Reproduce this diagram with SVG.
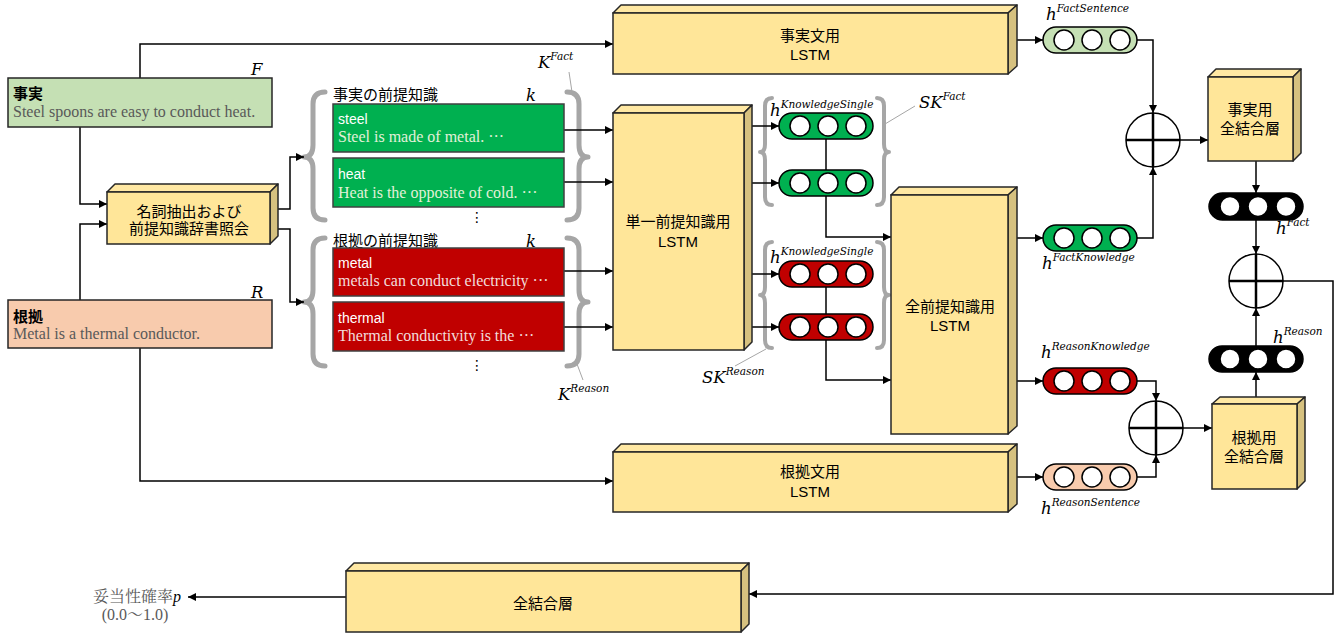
<svg xmlns="http://www.w3.org/2000/svg" width="1338" height="633" viewBox="0 0 1338 633">
<style>
.front{fill:#ffe699;stroke:#262626;stroke-width:1.5}
.top{fill:#ffe8a3;stroke:#262626;stroke-width:1.5;stroke-linejoin:round}
.side{fill:#d6c17f;stroke:#262626;stroke-width:1.5;stroke-linejoin:round}
.lbl{font-family:"Liberation Sans","Noto Sans CJK JP",sans-serif;font-size:15px;fill:#000;text-anchor:middle}
.hdr{font-family:"Liberation Sans","Noto Sans CJK JP",sans-serif;font-size:15px;fill:#000}
.kw{font-family:"Liberation Sans","Noto Sans CJK JP",sans-serif;font-size:14px;fill:#fff}
.ser{font-family:"Liberation Serif","Noto Serif CJK JP","Noto Sans CJK JP",serif;font-size:16px}
.math{font-family:"DejaVu Serif",serif;font-style:italic;font-size:16.5px;fill:#000}
.sup{font-size:10.5px}
.conn path,.conn line{fill:none;stroke:#000;stroke-width:1.5}
.brace{fill:none;stroke:#a6a6a6;stroke-width:5;stroke-linecap:round;stroke-linejoin:round}
.brace2{fill:none;stroke:#a6a6a6;stroke-width:4;stroke-linecap:round;stroke-linejoin:round}
.lead{stroke:#a6a6a6;stroke-width:1}
.pill{stroke:#000;stroke-width:1.5}
.dot{fill:#fff;stroke:#000;stroke-width:1.5}
.plus circle{fill:#fff;stroke:#000;stroke-width:1.5}
.plus line{stroke:#000;stroke-width:2.5}
</style>
<defs>
<marker id="arr" viewBox="0 0 10 10" refX="10" refY="5" markerWidth="8" markerHeight="8" markerUnits="userSpaceOnUse" orient="auto">
<path d="M0,0 L10,5 L0,10 z" fill="#000"/>
</marker>
<g id="dots3">
<circle class="dot" cx="21" cy="13" r="10"/>
<circle class="dot" cx="49" cy="13" r="10"/>
<circle class="dot" cx="77" cy="13" r="10"/>
</g>
</defs>
<rect width="1338" height="633" fill="#fff"/>

<!-- braces -->
<g id="braces">
<path class="brace" d="M325,92 Q313,92 313,104 V145 Q313,157 304,157 Q313,157 313,169 V208 Q313,220 325,220"/>
<path class="brace" d="M567,92 Q579,92 579,104 V145 Q579,157 588,157 Q579,157 579,169 V208 Q579,220 567,220"/>
<path class="brace" d="M325,238 Q313,238 313,250 V290 Q313,302 304,302 Q313,302 313,314 V354 Q313,366 325,366"/>
<path class="brace" d="M567,238 Q579,238 579,250 V290 Q579,302 588,302 Q579,302 579,314 V354 Q579,366 567,366"/>
<path class="brace2" d="M772,98 Q765,98 765,106 V144 Q765,152 760,152 Q765,152 765,160 V197 Q765,205 772,205"/>
<path class="brace2" d="M877,98 Q884,98 884,106 V144 Q884,152 889,152 Q884,152 884,160 V197 Q884,205 877,205"/>
<path class="brace2" d="M772,242 Q765,242 765,250 V287 Q765,295 760,295 Q765,295 765,303 V340 Q765,348 772,348"/>
<path class="brace2" d="M877,242 Q884,242 884,250 V287 Q884,295 889,295 Q884,295 884,303 V340 Q884,348 877,348"/>
<line class="lead" x1="569" y1="72" x2="572" y2="92"/>
<line class="lead" x1="577" y1="364" x2="583" y2="380"/>
<line class="lead" x1="885" y1="124" x2="915" y2="106"/>
<line class="lead" x1="735" y1="366" x2="766" y2="349"/>
</g>

<!-- connectors -->
<g class="conn" id="connectors">
<path d="M140,78 V44 H613" marker-end="url(#arr)"/>
<path d="M80,127 V204 H107" marker-end="url(#arr)"/>
<path d="M80,300 V224 H107" marker-end="url(#arr)"/>
<path d="M140,348 V481 H613" marker-end="url(#arr)"/>
<path d="M278,209 H290 V157 H304" marker-end="url(#arr)"/>
<path d="M278,229 H290 V302 H304" marker-end="url(#arr)"/>
<path d="M564,130 H613" marker-end="url(#arr)"/>
<path d="M564,182 H613" marker-end="url(#arr)"/>
<path d="M564,271 H613" marker-end="url(#arr)"/>
<path d="M564,327 H613" marker-end="url(#arr)"/>
<path d="M752,126 H779" marker-end="url(#arr)"/>
<path d="M752,183 H779" marker-end="url(#arr)"/>
<path d="M752,274 H779" marker-end="url(#arr)"/>
<path d="M752,327 H779" marker-end="url(#arr)"/>
<path d="M826,139 V170"/>
<path d="M826,196 V237 H891" marker-end="url(#arr)"/>
<path d="M826,287 V314"/>
<path d="M826,340 V380 H891" marker-end="url(#arr)"/>
<path d="M1017,40 H1043" marker-end="url(#arr)"/>
<path d="M1137,40 H1153 V113" marker-end="url(#arr)"/>
<path d="M1017,238 H1043" marker-end="url(#arr)"/>
<path d="M1137,238 H1153 V167" marker-end="url(#arr)"/>
<path d="M1180,140 H1208" marker-end="url(#arr)"/>
<path d="M1256,161 V193" marker-end="url(#arr)"/>
<path d="M1256,220 V254" marker-end="url(#arr)"/>
<path d="M1283,281 H1333 V594 H749" marker-end="url(#arr)"/>
<path d="M1017,381 H1043" marker-end="url(#arr)"/>
<path d="M1137,381 H1156 V401" marker-end="url(#arr)"/>
<path d="M1017,477 H1043" marker-end="url(#arr)"/>
<path d="M1137,477 H1156 V455" marker-end="url(#arr)"/>
<path d="M1183,428 H1212" marker-end="url(#arr)"/>
<path d="M1256,397 V372" marker-end="url(#arr)"/>
<path d="M1256,346 V308" marker-end="url(#arr)"/>
<path d="M346,597 H188" marker-end="url(#arr)"/>
</g>

<!-- input boxes -->
<g id="fact">
<rect x="8" y="78" width="264" height="49" fill="#c5e0b4" stroke="#262626" stroke-width="1.5"/>
<text class="hdr" x="13" y="99" font-weight="bold">事実</text>
<text class="ser" x="13" y="117" fill="#595959">Steel spoons are easy to conduct heat.</text>
<text class="math" x="251" y="75" font-size="15">F</text>
</g>
<g id="reason">
<rect x="8" y="300" width="264" height="48" fill="#f8cbad" stroke="#262626" stroke-width="1.5"/>
<text class="hdr" x="13" y="322" font-weight="bold">根拠</text>
<text class="ser" x="13" y="339" fill="#595959">Metal is a thermal conductor.</text>
<text class="math" x="251" y="298" font-size="15">R</text>
</g>

<!-- boxes -->
<g id="noun">
<polygon class="top" points="107,192 115,184 278,184 270,192"/>
<polygon class="side" points="270,192 278,184 278,236 270,244"/>
<rect class="front" x="107" y="192" width="163" height="52"/>
<text class="lbl" x="189" y="217">名詞抽出および</text>
<text class="lbl" x="189" y="234">前提知識辞書照会</text>
</g>
<g id="factLSTM">
<polygon class="top" points="613,13 621,5 1017,5 1008,13"/>
<polygon class="side" points="1008,13 1017,5 1017,66 1008,74"/>
<rect class="front" x="613" y="13" width="395" height="61"/>
<text class="lbl" x="810" y="41">事実文用</text>
<text class="lbl" x="810" y="60">LSTM</text>
</g>
<g id="singleLSTM">
<polygon class="top" points="613,113 621,105 752,105 744,113"/>
<polygon class="side" points="744,113 752,105 752,342 744,350"/>
<rect class="front" x="613" y="113" width="131" height="237"/>
<text class="lbl" x="678" y="227">単一前提知識用</text>
<text class="lbl" x="678" y="247">LSTM</text>
</g>
<g id="allLSTM">
<polygon class="top" points="891,195 899,187 1017,187 1008,195"/>
<polygon class="side" points="1008,195 1017,187 1017,426 1008,434"/>
<rect class="front" x="891" y="195" width="117" height="239"/>
<text class="lbl" x="950" y="312">全前提知識用</text>
<text class="lbl" x="950" y="331">LSTM</text>
</g>
<g id="reasonLSTM">
<polygon class="top" points="613,452 621,444 1017,444 1008,452"/>
<polygon class="side" points="1008,452 1017,444 1017,504 1008,512"/>
<rect class="front" x="613" y="452" width="395" height="60"/>
<text class="lbl" x="810" y="477">根拠文用</text>
<text class="lbl" x="810" y="497">LSTM</text>
</g>
<g id="factFC">
<polygon class="top" points="1208,77 1216,69 1301,69 1293,77"/>
<polygon class="side" points="1293,77 1301,69 1301,153 1293,161"/>
<rect class="front" x="1208" y="77" width="85" height="84"/>
<text class="lbl" x="1250" y="115">事実用</text>
<text class="lbl" x="1250" y="134">全結合層</text>
</g>
<g id="reasonFC">
<polygon class="top" points="1212,404 1220,397 1305,397 1297,404"/>
<polygon class="side" points="1297,404 1305,397 1305,481 1297,489"/>
<rect class="front" x="1212" y="404" width="85" height="85"/>
<text class="lbl" x="1254" y="443">根拠用</text>
<text class="lbl" x="1254" y="462">全結合層</text>
</g>
<g id="finalFC">
<polygon class="top" points="346,571 354,563 749,563 741,571"/>
<polygon class="side" points="741,571 749,563 749,624 741,632"/>
<rect class="front" x="346" y="571" width="395" height="61"/>
<text class="lbl" x="543" y="609">全結合層</text>
</g>

<!-- knowledge boxes -->
<g id="factKnowledge">
<text class="hdr" x="333" y="100">事実の前提知識</text>
<text class="math" x="526" y="101">k</text>
<text x="477" y="222" font-family="DejaVu Sans,sans-serif" font-size="14" text-anchor="middle">⋮</text>
</g>
<g id="kSteel">
<rect x="333" y="104" width="231" height="48" fill="#00b050" stroke="#404040" stroke-width="1.5"/>
<text class="kw" x="338" y="124">steel</text>
<text class="ser" x="338" y="142" fill="#e2f0d9">Steel is made of metal. ···</text>
</g>
<g id="kHeat">
<rect x="333" y="158" width="231" height="49" fill="#00b050" stroke="#404040" stroke-width="1.5"/>
<text class="kw" x="338" y="179">heat</text>
<text class="ser" x="338" y="198" fill="#e2f0d9">Heat is the opposite of cold. ···</text>
</g>
<g id="reasonKnowledge">
<text class="hdr" x="333" y="246">根拠の前提知識</text>
<text class="math" x="526" y="247">k</text>
<text x="477" y="370" font-family="DejaVu Sans,sans-serif" font-size="14" text-anchor="middle">⋮</text>
</g>
<g id="kMetal">
<rect x="333" y="248" width="231" height="48" fill="#c00000" stroke="#404040" stroke-width="1.5"/>
<text class="kw" x="338" y="268">metal</text>
<text class="ser" x="338" y="286" fill="#f2dcdb">metals can conduct electricity ···</text>
</g>
<g id="kThermal">
<rect x="333" y="302" width="231" height="49" fill="#c00000" stroke="#404040" stroke-width="1.5"/>
<text class="kw" x="338" y="323">thermal</text>
<text class="ser" x="338" y="341" fill="#f2dcdb">Thermal conductivity is the ···</text>
</g>

<!-- math labels -->
<g id="labels">
<text class="math" x="538" y="68">K<tspan class="sup" dy="-8">Fact</tspan></text>
<text class="math" x="558" y="400">K<tspan class="sup" dy="-8">Reason</tspan></text>
<text class="math" x="919" y="108">SK<tspan class="sup" dy="-8">Fact</tspan></text>
<text class="math" x="702" y="383">SK<tspan class="sup" dy="-8">Reason</tspan></text>
<text class="math" x="770" y="116">h<tspan class="sup" dy="-8">KnowledgeSingle</tspan></text>
<text class="math" x="770" y="263">h<tspan class="sup" dy="-8">KnowledgeSingle</tspan></text>
<text class="math" x="1046" y="20">h<tspan class="sup" dy="-8">FactSentence</tspan></text>
<text class="math" x="1042" y="269">h<tspan class="sup" dy="-8">FactKnowledge</tspan></text>
<text class="math" x="1276" y="234">h<tspan class="sup" dy="-8">Fact</tspan></text>
<text class="math" x="1273" y="343">h<tspan class="sup" dy="-8">Reason</tspan></text>
<text class="math" x="1041" y="358">h<tspan class="sup" dy="-8">ReasonKnowledge</tspan></text>
<text class="math" x="1041" y="514">h<tspan class="sup" dy="-8">ReasonSentence</tspan></text>
</g>

<!-- vectors -->
<g id="vecKS1"><rect class="pill" x="779" y="113" width="94" height="26" rx="13" fill="#00b050"/><use href="#dots3" x="779" y="113"/></g>
<g id="vecKS2"><rect class="pill" x="779" y="170" width="94" height="26" rx="13" fill="#00b050"/><use href="#dots3" x="779" y="170"/></g>
<g id="vecKS3"><rect class="pill" x="779" y="261" width="94" height="26" rx="13" fill="#c00000"/><use href="#dots3" x="779" y="261"/></g>
<g id="vecKS4"><rect class="pill" x="779" y="314" width="94" height="26" rx="13" fill="#c00000"/><use href="#dots3" x="779" y="314"/></g>
<g id="vecFS"><rect class="pill" x="1043" y="27" width="94" height="26" rx="13" fill="#c5e0b4"/><use href="#dots3" x="1043" y="27"/></g>
<g id="vecFK"><rect class="pill" x="1043" y="225" width="94" height="26" rx="13" fill="#00b050"/><use href="#dots3" x="1043" y="225"/></g>
<g id="vecRK"><rect class="pill" x="1043" y="368" width="94" height="26" rx="13" fill="#c00000"/><use href="#dots3" x="1043" y="368"/></g>
<g id="vecRS"><rect class="pill" x="1043" y="464" width="94" height="26" rx="13" fill="#f8cbad"/><use href="#dots3" x="1043" y="464"/></g>
<g id="vecF"><rect class="pill" x="1209" y="193" width="94" height="27" rx="13.5" fill="#000"/><use href="#dots3" x="1209" y="193.5"/></g>
<g id="vecR"><rect class="pill" x="1209" y="346" width="94" height="26" rx="13" fill="#000"/><use href="#dots3" x="1209" y="346"/></g>

<!-- concat -->
<g id="plus1" class="plus"><circle cx="1153" cy="140" r="27"/><line x1="1126" y1="140" x2="1180" y2="140"/><line x1="1153" y1="113" x2="1153" y2="167"/></g>
<g id="plus2" class="plus"><circle cx="1256" cy="281" r="27"/><line x1="1229" y1="281" x2="1283" y2="281"/><line x1="1256" y1="254" x2="1256" y2="308"/></g>
<g id="plus3" class="plus"><circle cx="1156" cy="428" r="27"/><line x1="1129" y1="428" x2="1183" y2="428"/><line x1="1156" y1="401" x2="1156" y2="455"/></g>

<!-- output -->
<g id="output">
<text class="ser" x="137" y="602" font-size="16" fill="#595959" text-anchor="middle">妥当性確率<tspan font-style="italic" fill="#000">p</tspan></text>
<text class="ser" x="135" y="620" font-size="16" fill="#595959" text-anchor="middle">(0.0〜1.0)</text>
</g>
</svg>
